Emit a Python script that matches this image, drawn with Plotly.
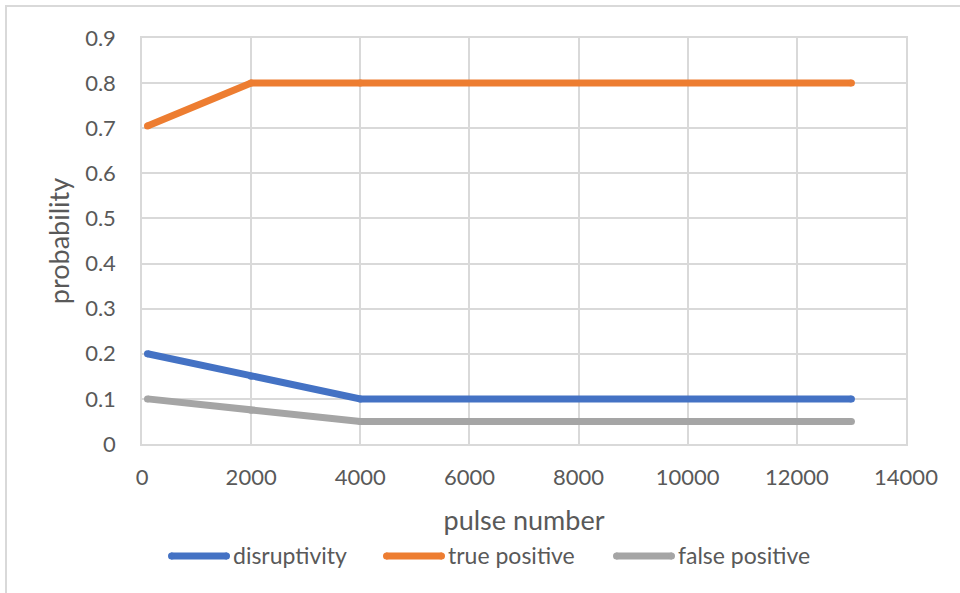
import plotly.graph_objects as go

# pulse numbers at which each probability was evaluated
pulse = [100, 2000, 4000, 13000]
disruptivity = [0.2, 0.15, 0.1, 0.1]
true_positive = [0.705, 0.8, 0.8, 0.8]
false_positive = [0.1, 0.075, 0.05, 0.05]

series_names = ["disruptivity", "true positive", "false positive"]
series_values = [disruptivity, true_positive, false_positive]
series_colors = ["#4472C4", "#ED7D31", "#A5A5A5"]

FONT = "Lato"
TXT = "#595959"
GRID = "#D9D9D9"

# plot area in pixels (used for converting the legend layout to paper units)
L, R, T, B = 142, 54, 38, 149
W, H = 960, 593
PW, PH = W - L - R, H - T - B


def px_x(px):
    return (px - L) / PW


def px_y(py):
    return 1 - (py - T) / PH


fig = go.Figure()
for name, vals, col in zip(series_names, series_values, series_colors):
    fig.add_trace(go.Scatter(
        x=pulse, y=vals, name=name, mode="lines+markers",
        line=dict(color=col, width=7),
        marker=dict(color=col, size=7, line=dict(width=0)),
        showlegend=False,
    ))

# legend drawn as a row of swatches with labels to their right
legend_left = [168, 383, 613]
legend_y = 556
shapes = []
annotations = []
for name, col, x0 in zip(series_names, series_colors, legend_left):
    shapes.append(dict(type="line", xref="paper", yref="paper",
                       x0=px_x(x0 + 3), x1=px_x(x0 + 59), y0=px_y(legend_y), y1=px_y(legend_y),
                       line=dict(color=col, width=7)))
    shapes.append(dict(type="circle", xref="paper", yref="paper",
                       x0=px_x(x0), x1=px_x(x0 + 7), y0=px_y(legend_y + 3.5), y1=px_y(legend_y - 3.5),
                       fillcolor=col, line=dict(width=0)))
    shapes.append(dict(type="circle", xref="paper", yref="paper",
                       x0=px_x(x0 + 55), x1=px_x(x0 + 62), y0=px_y(legend_y + 3.5), y1=px_y(legend_y - 3.5),
                       fillcolor=col, line=dict(width=0)))
    annotations.append(dict(text=name, xref="paper", yref="paper",
                            x=px_x(x0 + 63), y=px_y(legend_y - 1), xanchor="left", yanchor="middle",
                            showarrow=False, font=dict(size=23, color=TXT, family=FONT)))

# chart frame
shapes.append(dict(type="rect", xref="paper", yref="paper",
                   x0=px_x(6), x1=1.2, y0=-0.6, y1=px_y(6),
                   line=dict(color="#D9D9D9", width=2), layer="below"))

fig.update_layout(
    width=W, height=H,
    margin=dict(l=L, r=R, t=T, b=B),
    paper_bgcolor="white", plot_bgcolor="white",
    font=dict(family=FONT, size=22, color=TXT),
    showlegend=False,
    xaxis=dict(
        range=[0, 14000], dtick=2000, tick0=0, tickformat="d",
        showgrid=True, gridcolor=GRID, gridwidth=1.5,
        showline=True, linecolor=GRID, linewidth=1.5, mirror=True,
        zeroline=False, ticks="", ticklabelstandoff=13,
        tickfont=dict(size=22, color=TXT),
        title=dict(text="pulse number", font=dict(size=27, color=TXT), standoff=22),
    ),
    yaxis=dict(
        range=[0, 0.9], dtick=0.1, tick0=0, tickformat="~g",
        showgrid=True, gridcolor=GRID, gridwidth=1.5,
        showline=True, linecolor=GRID, linewidth=1.5, mirror=True,
        zeroline=False, ticks="", ticklabelstandoff=20,
        tickfont=dict(size=22, color=TXT),
        title=dict(text="probability", font=dict(size=27, color=TXT), standoff=8),
    ),
    shapes=shapes,
    annotations=annotations,
)

fig.write_html("out.html")
